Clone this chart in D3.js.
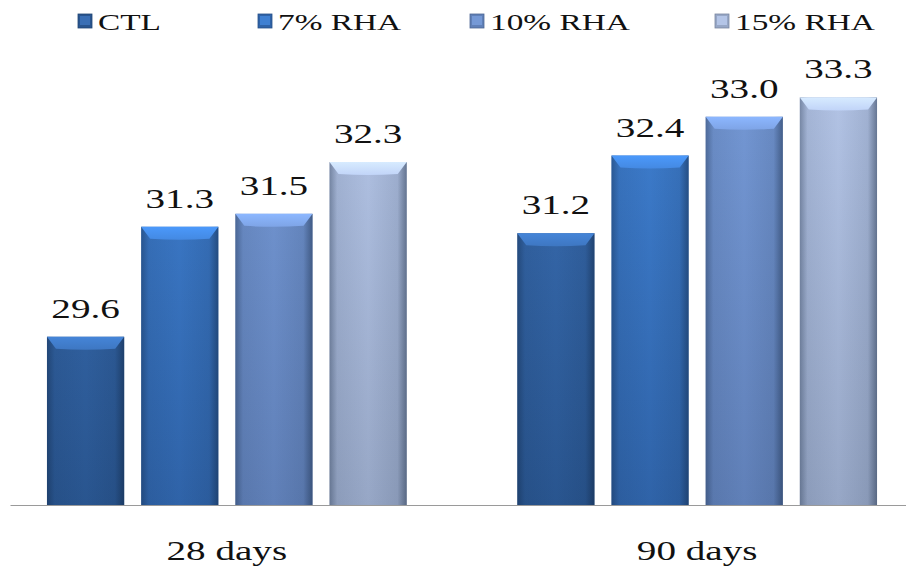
<!DOCTYPE html>
<html>
<head>
<meta charset="utf-8">
<script src="https://cdn.jsdelivr.net/npm/d3@7"></script>
<style>
  html, body { margin: 0; padding: 0; background: #ffffff; }
  svg { display: block; }
  text { font-family: "Liberation Serif", "Times New Roman", Times, serif; fill: #111; }
</style>
</head>
<body>
<svg id="chart" width="906" height="567"></svg>
<script>
// Strength by curing age for each rice-husk-ash replacement level
const ages = ["28 days", "90 days"];
const mixes = ["CTL", "7% RHA", "10% RHA", "15% RHA"];
const values28 = [29.6, 31.3, 31.5, 32.3];
const values90 = [31.2, 32.4, 33.0, 33.3];
const seriesTop = ["#3a6fb5", "#3f80d2", "#7599d6", "#b4c5e7"];
const seriesBottom = ["#29558f", "#2f63a8", "#6080b8", "#97a7c6"];

const rows = ages.map((age, i) => ({
  age,
  values: (i === 0 ? values28 : values90).map((v, j) => ({ mix: mixes[j], v, j }))
}));

const svg = d3.select("#chart");
const textStretch = 1.45;

const baseY = 505;
const y = d3.scaleLinear().domain([27, 34]).range([baseY, baseY - 7 * 64.7]);
const x0 = d3.scaleBand().domain(ages).range([10, 914]).paddingInner(0.235).paddingOuter(0.0786);
const x1 = d3.scaleBand().domain(mixes).range([0, x0.bandwidth()]).paddingInner(0.18).paddingOuter(0);

const defs = svg.append("defs");
mixes.forEach((m, i) => {
  const g = defs.append("linearGradient").attr("id", "fill" + i)
    .attr("gradientUnits", "userSpaceOnUse").attr("x1", 0).attr("y1", 60).attr("x2", 0).attr("y2", baseY);
  g.append("stop").attr("offset", 0).attr("stop-color", seriesTop[i]);
  g.append("stop").attr("offset", 1).attr("stop-color", seriesBottom[i]);

  const b = defs.append("linearGradient").attr("id", "bevel" + i)
    .attr("x1", 0).attr("y1", 0).attr("x2", 0).attr("y2", 1);
  b.append("stop").attr("offset", 0).attr("stop-color", d3.color(seriesTop[i]).brighter(0.5));
  b.append("stop").attr("offset", 1).attr("stop-color", d3.color(seriesTop[i]).brighter(0.2));
});
// darkened side edges of each column
const side = defs.append("linearGradient").attr("id", "sideShade").attr("x1", 0).attr("x2", 1).attr("y1", 0).attr("y2", 0);
[[0, 0.35], [0.1, 0.08], [0.5, 0], [0.88, 0.1], [1, 0.45]].forEach(([o, a]) =>
  side.append("stop").attr("offset", o).attr("stop-color", "#0a1a30").attr("stop-opacity", a));

// category axis along the base
const axis = svg.append("g").attr("transform", `translate(0,${baseY})`)
  .call(d3.axisBottom(x0).tickSize(0).tickPadding(0));
axis.select(".domain").attr("stroke", "#9a9a9a").attr("stroke-width", 1.2);
axis.selectAll(".tick text")
  .attr("y", 55).attr("dy", 0)
  .attr("transform", `scale(${textStretch},1)`)
  .style("font-family", '"Liberation Serif", "Times New Roman", serif')
  .style("font-size", "27px").attr("fill", "#111");

const groups = svg.append("g").selectAll("g").data(rows).join("g")
  .attr("transform", d => `translate(${x0(d.age)},0)`);

const bars = groups.selectAll("g.bar").data(d => d.values).join("g").attr("class", "bar");
const bw = x1.bandwidth();
const bevelH = 12, bevelIn = 9;

bars.append("rect")
  .attr("x", d => x1(d.mix)).attr("y", d => y(d.v))
  .attr("width", bw).attr("height", d => baseY - y(d.v))
  .attr("fill", d => `url(#fill${d.j})`);
bars.append("rect")
  .attr("x", d => x1(d.mix)).attr("y", d => y(d.v))
  .attr("width", bw).attr("height", d => baseY - y(d.v))
  .attr("fill", "url(#sideShade)");
bars.append("path")
  .attr("d", d => {
    const xl = x1(d.mix), yt = y(d.v);
    return `M${xl},${yt}L${xl + bw},${yt}L${xl + bw - bevelIn},${yt + bevelH}Q${xl + bw / 2},${yt + bevelH + 2} ${xl + bevelIn},${yt + bevelH}Z`;
  })
  .attr("fill", d => `url(#bevel${d.j})`);

// value labels
bars.append("text")
  .attr("transform", d => `translate(${x1(d.mix) + bw / 2},${y(d.v) - 19}) scale(${textStretch},1)`)
  .attr("text-anchor", "middle")
  .style("font-size", "27px")
  .text(d => d.v.toFixed(1));

// legend
const legendX = [78, 258, 470, 715];
const legend = svg.append("g").selectAll("g").data(mixes).join("g")
  .attr("transform", (d, i) => `translate(${legendX[i]},14)`);
legend.append("rect").attr("width", 14).attr("height", 14)
  .attr("fill", (d, i) => seriesBottom[i]).attr("stroke", (d, i) => d3.color(seriesBottom[i]).darker(0.6)).attr("stroke-width", 0.8);
legend.append("rect").attr("x", 2).attr("y", 2).attr("width", 10).attr("height", 9)
  .attr("fill", (d, i) => seriesTop[i]);
legend.append("text")
  .attr("transform", `translate(20,16) scale(${textStretch},1)`)
  .style("font-size", "23px")
  .text(d => d);
</script>
</body>
</html>
